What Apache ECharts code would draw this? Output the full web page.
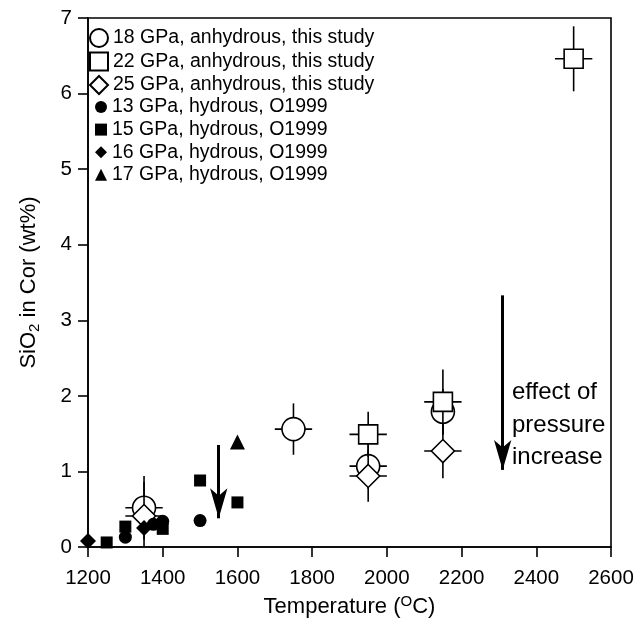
<!DOCTYPE html>
<html>
<head>
<meta charset="utf-8">
<script src="https://cdn.jsdelivr.net/npm/echarts@6/dist/echarts.min.js"></script>
<style>
  html, body { margin: 0; padding: 0; background: #fff; }
  #chart { width: 640px; height: 630px; }
</style>
</head>
<body>
<div id="chart"></div>
<script>
const FONT = "Liberation Sans"

// anhydrous runs, this study (value, 1-sigma in SiO2, half-width in T)
const t18 = [1350, 1750, 1950, 2150]
const v18 = [0.52, 1.56, 1.07, 1.79]
const e18 = [0.42, 0.34, 0.30, 0.30]
const te18 = [50, 50, 50, 0]

const t22 = [1950, 2150, 2500]
const v22 = [1.49, 1.92, 6.46]
const e22 = [0.30, 0.43, 0.43]
const te22 = [50, 50, 50]

const t25 = [1350, 1950, 2150]
const v25 = [0.41, 0.94, 1.27]
const e25 = [0.45, 0.34, 0.36]
const te25 = [50, 50, 50]

// hydrous runs, O1999
const t13 = [1300, 1375, 1400, 1500]
const v13 = [0.13, 0.30, 0.34, 0.35]
const t15 = [1250, 1300, 1400, 1500, 1600]
const v15 = [0.06, 0.27, 0.24, 0.88, 0.59]
const t16 = [1200, 1350]
const v16 = [0.08, 0.25]
const t17 = [1600]
const v17 = [1.39]

// arrows
const arrowT = [1550, 2310]
const arrowFrom = [1.35, 3.33]
const arrowTo = [0.38, 1.02]

// annotation
const noteLines = ["effect of", "pressure", "increase"]
const noteT = 2335
const noteV = 1.61

const xTicks = { min: 1200, max: 2600, interval: 200 }
const yTicks = { min: 0, max: 7, interval: 1 }

const names = [
  "18 GPa, anhydrous, this study",
  "22 GPa, anhydrous, this study",
  "25 GPa, anhydrous, this study",
  "13 GPa, hydrous, O1999",
  "15 GPa, hydrous, O1999",
  "16 GPa, hydrous, O1999",
  "17 GPa, hydrous, O1999",
]

function pairs(xs, ys) {
  return xs.map((x, i) => [x, ys[i]])
}

function errorBars(id, temps, vals, errs, terrs, z) {
  return {
    type: "custom",
    name: id,
    z,
    silent: true,
    data: temps.map((t, i) => [t, vals[i], errs[i], terrs[i]]),
    encode: { x: 0, y: 1 },
    renderItem(params, api) {
      const t = api.value(0)
      const v = api.value(1)
      const e = api.value(2)
      const te = api.value(3)
      const children = []
      if (e > 0) {
        const top = api.coord([t, v + e])
        const bot = api.coord([t, Math.max(v - e, 0)])
        children.push({
          type: "line",
          shape: { x1: top[0], y1: top[1], x2: bot[0], y2: bot[1] },
          style: { stroke: "#000", lineWidth: 1.6 },
        })
      }
      if (te > 0) {
        const l = api.coord([t - te, v])
        const r = api.coord([t + te, v])
        children.push({
          type: "line",
          shape: { x1: l[0], y1: l[1], x2: r[0], y2: r[1] },
          style: { stroke: "#000", lineWidth: 1.6 },
        })
      }
      return { type: "group", children }
    },
  }
}

function openScatter(name, symbol, size, temps, vals, z) {
  return {
    type: "scatter",
    name,
    z,
    symbol,
    symbolSize: size,
    data: pairs(temps, vals),
    itemStyle: { color: "#fff", borderColor: "#000", borderWidth: 1.6, opacity: 1 },
    emphasis: { disabled: true },
  }
}

function filledScatter(name, symbol, size, temps, vals) {
  return {
    type: "scatter",
    name,
    z: 10,
    symbol,
    symbolSize: size,
    data: pairs(temps, vals),
    itemStyle: { color: "#000", opacity: 1 },
    emphasis: { disabled: true },
  }
}

const chart = echarts.init(document.getElementById("chart"))

const legendText = { fontFamily: FONT, fontSize: 19.5, color: "#000", lineHeight: 20 }

chart.setOption({
  animation: false,
  backgroundColor: "#fff",
  grid: { left: 88, right: 29, top: 18, bottom: 83, show: true, borderColor: "#000", borderWidth: 1.6 },
  legend: [
    {
      orient: "vertical",
      left: 89,
      top: 28,
      padding: 0,
      itemWidth: 18,
      itemHeight: 18,
      itemGap: 3.5,
      selectedMode: false,
      textStyle: legendText,
      data: names.slice(0, 3),
    },
    {
      orient: "vertical",
      left: 95,
      top: 97,
      padding: 0,
      itemWidth: 12,
      itemHeight: 12,
      itemGap: 2.6,
      selectedMode: false,
      textStyle: legendText,
      data: names.slice(3),
    },
  ],
  xAxis: {
    type: "value",
    ...xTicks,
    name: "Temperature ({sup|O}C)",
    nameLocation: "middle",
    nameGap: 46,
    nameTextStyle: {
      fontFamily: FONT,
      fontSize: 22,
      color: "#000",
      lineHeight: 26,
      rich: { sup: { fontFamily: FONT, fontSize: 15, verticalAlign: "top", lineHeight: 14 } },
    },
    axisLine: { lineStyle: { color: "#000", width: 1.6 } },
    axisTick: { inside: false, length: 10, lineStyle: { color: "#000", width: 1.6 } },
    axisLabel: { fontFamily: FONT, fontSize: 20.5, color: "#000", margin: 21, formatter: (v) => String(v) },
    splitLine: { show: false },
  },
  yAxis: {
    type: "value",
    ...yTicks,
    name: "SiO{sub|2} in Cor (wt%)",
    nameLocation: "middle",
    nameGap: 46,
    nameTextStyle: {
      fontFamily: FONT,
      fontSize: 22,
      color: "#000",
      lineHeight: 26,
      rich: { sub: { fontFamily: FONT, fontSize: 15, verticalAlign: "bottom", lineHeight: 14 } },
    },
    axisLine: { lineStyle: { color: "#000", width: 1.6 } },
    axisTick: { inside: false, length: 10, lineStyle: { color: "#000", width: 1.6 } },
    axisLabel: { fontFamily: FONT, fontSize: 20.5, color: "#000", margin: 16 },
    splitLine: { show: false },
  },
  series: [
    errorBars("err18", t18, v18, e18, te18, 2),
    openScatter(names[0], "circle", 23, t18, v18, 3),
    errorBars("err22", t22, v22, e22, te22, 4),
    openScatter(names[1], "rect", 19, t22, v22, 5),
    errorBars("err25", t25, v25, e25, te25, 6),
    openScatter(names[2], "diamond", 23, t25, v25, 7),
    filledScatter(names[3], "circle", 13, t13, v13),
    filledScatter(names[4], "rect", 12, t15, v15),
    filledScatter(names[5], "diamond", 16, t16, v16),
    filledScatter(names[6], "triangle", 15, t17, v17),
    {
      type: "scatter",
      name: "arrows",
      data: [],
      z: 9,
      markLine: {
        silent: true,
        animation: false,
        symbol: ["none", "arrow"],
        symbolSize: [13, 30],
        lineStyle: { color: "#000", width: 3, type: "solid" },
        label: { show: false },
        data: arrowT.map((t, i) => [{ coord: [t, arrowFrom[i]] }, { coord: [t, arrowTo[i]] }]),
      },
    },
  ],
})

const notePos = chart.convertToPixel({ gridIndex: 0 }, [noteT, noteV])
chart.setOption({
  graphic: [
    {
      type: "text",
      x: notePos[0],
      y: notePos[1],
      silent: true,
      style: {
        text: noteLines.join("\n"),
        fontFamily: FONT,
        fontSize: 24,
        lineHeight: 32.5,
        fill: "#000",
        align: "left",
        verticalAlign: "middle",
      },
    },
  ],
})
</script>
</body>
</html>
